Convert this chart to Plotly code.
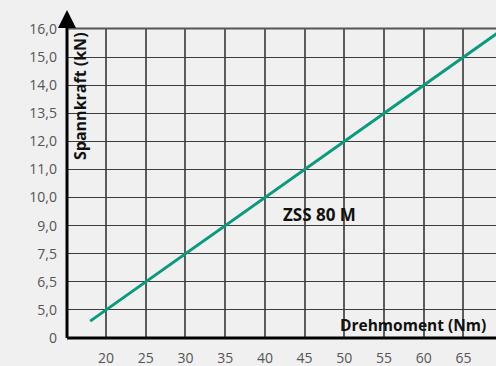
import numpy as np
import plotly.graph_objects as go

# Y axis: force levels printed at evenly spaced grid rows
kraft_ticks = [0, 5.0, 6.5, 7.5, 9.0, 10.0, 11.0, 12.0, 13.5, 14.0, 15.0, 16.0]
kraft_labels = ["0", "5,0", "6,5", "7,5", "9,0", "10,0", "11,0", "12,0", "13,5", "14,0", "15,0", "16,0"]

# X axis: torque ticks
moment_ticks = [20, 25, 30, 35, 40, 45, 50, 55, 60, 65, 70]

# ZSS 80 M characteristic: torque (Nm) -> clamping force (kN)
drehmoment = [18, 20, 25, 30, 35, 40, 45, 50, 55, 60, 65, 70]
spannkraft = [3.0, 5.0, 6.5, 7.5, 9.0, 10.0, 11.0, 12.0, 13.5, 14.0, 15.0, 16.0]

# ordinal row position of each force value on the y axis
rows = list(range(len(kraft_ticks)))
spannkraft_pos = np.interp(spannkraft, kraft_ticks, rows)

BG = "#f0f0f0"
TEAL = "#0a9a7e"
FONT = "Open Sans"
LABEL = "#555555"
TITLE = "#111111"

fig = go.Figure()
fig.add_trace(go.Scatter(
    x=drehmoment, y=spannkraft_pos, mode="lines",
    line=dict(color=TEAL, width=3), hoverinfo="skip", showlegend=False,
))

fig.update_layout(
    width=496, height=366,
    margin=dict(l=67, r=0, t=29, b=28),
    paper_bgcolor=BG, plot_bgcolor=BG,
    font=dict(family=FONT, size=14, color=LABEL),
    xaxis=dict(
        range=[15.08, 69.1], tickvals=moment_ticks, ticks="",
        showgrid=True, gridcolor="#5c5c5c", gridwidth=1.6,
        zeroline=False, showline=False, ticklabelstandoff=10,
        tickfont=dict(size=14, color=LABEL),
    ),
    yaxis=dict(
        range=[0, 11], tickvals=rows, ticktext=kraft_labels, ticks="",
        showgrid=True, gridcolor="#3c3c3c", gridwidth=1.3,
        zeroline=False, showline=False, ticklabelstandoff=9,
        tickfont=dict(size=14, color=LABEL),
    ),
)

# top border of the grid
fig.add_shape(type="line", xref="paper", yref="paper", x0=0, x1=1, y0=1.002, y1=1.002,
              line=dict(color="#555555", width=2))
# thick axis lines with arrow on the force axis
fig.add_shape(type="line", xref="paper", yref="paper", x0=0, x1=1, y0=0, y1=0,
              line=dict(color="black", width=3))
fig.add_shape(type="line", xref="paper", yref="paper", x0=0, x1=0, y0=0, y1=1.01,
              line=dict(color="black", width=3))
fig.add_shape(type="path", xref="paper", yref="paper", xsizemode="pixel", ysizemode="pixel",
              xanchor=0, yanchor=1,
              path="M -9,1 L 9,1 L 0,19 Z",
              fillcolor="black", line=dict(color="black", width=0))

# axis titles and series label
fig.add_annotation(x=13 / 429, xref="paper", y=(338 - 96) / 309, yref="paper",
                   xanchor="center", yanchor="middle", text="<b>Spannkraft (kN)</b>",
                   textangle=-90, showarrow=False, font=dict(size=16, color=TITLE, family=FONT))
fig.add_annotation(x=(488 - 67) / 429, xref="paper", y=(338 - 325) / 309, yref="paper",
                   xanchor="right", yanchor="middle",
                   text="<b>Drehmoment (Nm)</b>", showarrow=False,
                   font=dict(size=15.5, color=TITLE, family=FONT))
fig.add_annotation(x=(319 - 67) / 429, xref="paper", y=(338 - 214) / 309, yref="paper",
                   xanchor="center", yanchor="middle", text="<b>ZSS 80 M</b>",
                   showarrow=False, font=dict(size=17, color=TITLE, family=FONT))

fig.write_html("out.html")
